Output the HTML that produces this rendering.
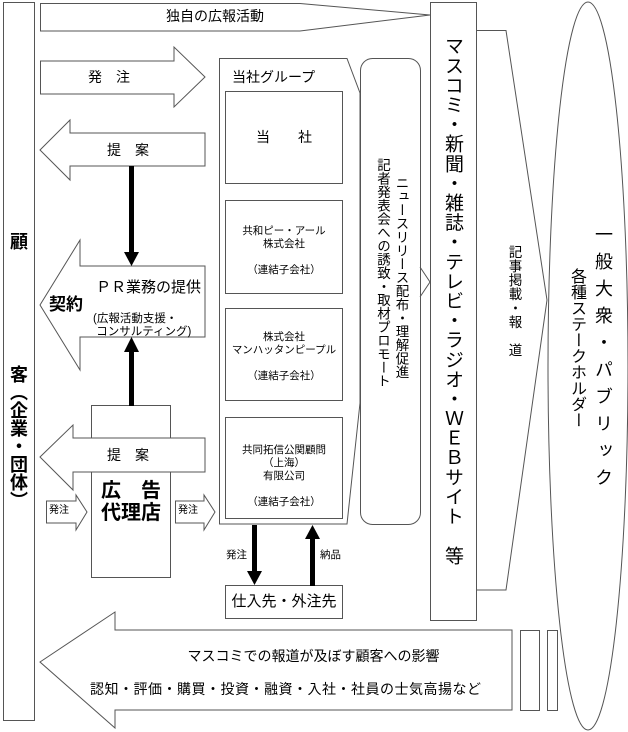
<!DOCTYPE html>
<html><head><meta charset="utf-8"><style>
body{margin:0;width:628px;height:732px;background:#fff;position:relative;overflow:hidden;font-family:"Liberation Sans","Noto Sans CJK JP",sans-serif;color:#000}
svg{position:absolute;left:0;top:0}
.t{position:absolute;white-space:nowrap;line-height:1}
.v{position:absolute;writing-mode:vertical-rl;white-space:nowrap;line-height:1}
.c{text-align:center}
</style></head><body>
<svg width="628" height="732" viewBox="0 0 628 732" fill="#fff" stroke="#555" stroke-width="1">
<rect x="3.5" y="2.5" width="31" height="718"/>
<polygon points="40.5,3.5 300,3.5 430,15 300,31 40.5,31"/>
<polygon points="40.5,61 174,61 174,47 205,77 174,107 174,94 40.5,94"/>
<polygon points="40,150 70,120 70,133 205,133 205,166 70,166 70,180"/>
<polygon points="40,305 80,240 80,266 205,266 205,337 80,337 80,370"/>
<rect x="91.5" y="405.5" width="79" height="172"/>
<polygon points="40,457 73,425 73,438 205,438 205,472 73,472 73,490"/>
<polygon points="46.5,501 76,501 76,495 87,512 76,530 76,523 46.5,523"/>
<polygon points="175.5,501 204,501 204,495 215,512 204,530 204,523 175.5,523"/>
<polygon points="219.5,58.5 347,58.5 360,93 360,403 347,524 219.5,524"/>
<rect x="225.5" y="91.5" width="117" height="92"/>
<rect x="225.5" y="200.5" width="117" height="93"/>
<rect x="225.5" y="308.5" width="117" height="92"/>
<rect x="225.5" y="417.5" width="117" height="101"/>
<rect x="360.5" y="58.5" width="60" height="466" rx="12"/>
<polyline points="420,267 430,282 420,297" fill="none"/>
<rect x="430.5" y="2.5" width="46" height="618"/>
<polygon points="476.5,30.5 506,30.5 547,300 506,590 476.5,590"/>
<ellipse cx="588" cy="366" rx="40" ry="364"/>
<rect x="225.5" y="585.5" width="117" height="33"/>
<polygon points="40,662 115,612 115,630 512,630 512,710 115,710 115,728"/>
<rect x="520.5" y="630.5" width="19" height="80"/>
<rect x="547.5" y="630.5" width="10" height="80"/>
<g stroke="none" fill="#000">
<rect x="129" y="166" width="5" height="88"/><polygon points="124,252 139,252 131.5,266"/>
<rect x="129" y="351" width="5" height="55"/><polygon points="124,352 139,352 131.5,337"/>
<rect x="252" y="525" width="5" height="48"/><polygon points="247,571 262,571 254.5,585"/>
<rect x="310" y="538" width="5" height="48"/><polygon points="305,539 320,539 312.5,525"/>
</g>
</svg>
<div class="t" style="left:40px;top:9px;width:390px;text-align:center;font-size:14px;padding-right:40px;box-sizing:border-box">独自の広報活動</div>
<div class="t" style="left:88px;top:70px;font-size:14px">発　注</div>
<div class="t" style="left:107px;top:143px;font-size:14px">提　案</div>
<div class="t" style="left:96px;top:280px;font-size:15px">ＰＲ業務の提供</div>
<div class="t" style="left:49px;top:296px;font-size:17px;font-weight:bold">契約</div>
<div class="t" style="left:93px;top:313px;font-size:11.5px;line-height:13px">(広報活動支援・<br>&nbsp;コンサルティング)</div>
<div class="t" style="left:107px;top:448px;font-size:14px">提　案</div>
<div class="t" style="left:101px;top:480px;font-size:20px;line-height:22px;font-weight:bold;width:62px;text-align:justify">広　告<br>代理店</div>
<div class="t" style="left:49px;top:506px;font-size:10px">発注</div>
<div class="t" style="left:178px;top:506px;font-size:10px">発注</div>
<div class="t" style="left:232px;top:70px;font-size:14px">当社グループ</div>
<div class="t c" style="left:225px;top:130px;width:118px;font-size:14px">当　　社</div>
<div class="t c" style="left:225px;top:225px;width:118px;font-size:10.5px;line-height:13px">共和ピー・アール<br>株式会社<br><br>（連結子会社）</div>
<div class="t c" style="left:225px;top:331px;width:118px;font-size:10.5px;line-height:13px">株式会社<br>マンハッタンピープル<br><br>（連結子会社）</div>
<div class="t c" style="left:225px;top:444px;width:118px;font-size:10.5px;line-height:13px">共同拓信公関顧問<br>（上海）<br>有限公司<br><br>（連結子会社）</div>
<div class="t" style="left:226px;top:550px;font-size:10.5px">発注</div>
<div class="t" style="left:320px;top:550px;font-size:10.5px">納品</div>
<div class="t c" style="left:225px;top:594px;width:118px;font-size:15px">仕入先・外注先</div>
<div class="v" style="left:373px;top:158px;font-size:13.5px;line-height:19px">記者発表会への誘致・取材プロモート</div>
<div class="v" style="left:394px;top:176px;font-size:13.5px">ニュースリリース配布・理解促進</div>
<div class="v" style="left:443px;top:36px;font-size:19px;letter-spacing:0.6px">マスコミ・新聞・雑誌・テレビ・ラジオ・ＷＥＢサイト　等</div>
<div class="v" style="left:507px;top:245px;font-size:13.5px;letter-spacing:0.5px">記事掲載・報　道</div>
<div class="v" style="left:594px;top:225px;font-size:18px;letter-spacing:9px">一般大衆・パブリック</div>
<div class="v" style="left:568px;top:268px;font-size:16px">各種ステークホルダー</div>
<div class="v" style="left:9px;top:232px;font-size:18px;font-weight:bold">顧</div>
<div class="v" style="left:9px;top:365px;font-size:18px;font-weight:bold">客（企業・団体）</div>
<div class="t c" style="left:115px;top:649px;width:397px;font-size:14px">マスコミでの報道が及ぼす顧客への影響</div>
<div class="t" style="left:90px;top:682px;font-size:14px;letter-spacing:0.5px">認知・評価・購買・投資・融資・入社・社員の士気高揚など</div>
</body></html>
